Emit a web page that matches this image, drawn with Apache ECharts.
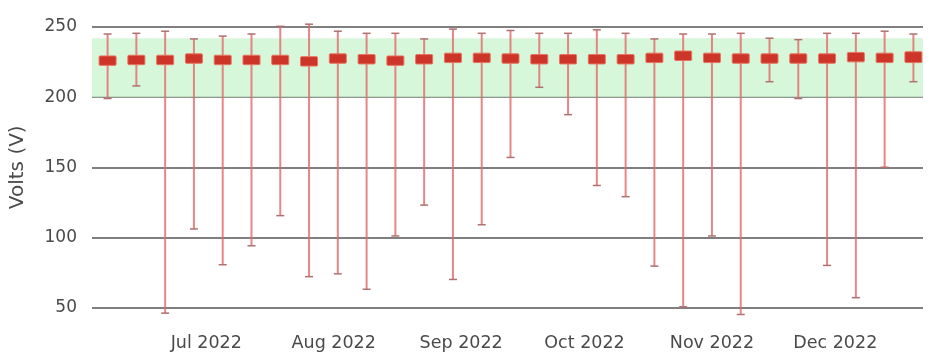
<!DOCTYPE html>
<html>
<head>
<meta charset="utf-8">
<script src="https://cdn.jsdelivr.net/npm/echarts@6/dist/echarts.min.js"></script>
<style>
  html, body { margin: 0; padding: 0; background: #fff; }
  #chart { width: 933px; height: 362px; }
</style>
</head>
<body>
<div id="chart"></div>
<script>
// Weekly voltage distribution: min / lower quartile / upper quartile / max per week
const weekStarts = [
  '2022-06-07', '2022-06-14', '2022-06-21', '2022-06-28', '2022-07-05',
  '2022-07-12', '2022-07-19', '2022-07-26', '2022-08-02', '2022-08-09',
  '2022-08-16', '2022-08-23', '2022-08-30', '2022-09-06', '2022-09-13',
  '2022-09-20', '2022-09-27', '2022-10-04', '2022-10-11', '2022-10-18',
  '2022-10-25', '2022-11-01', '2022-11-08', '2022-11-15', '2022-11-22',
  '2022-11-29', '2022-12-06', '2022-12-13', '2022-12-20'
];
const minVolts = [
  199, 208, 46, 106, 80.5, 94, 115.5, 72, 74, 63,
  101, 123, 70, 109, 157, 207, 187.5, 137, 129, 79.5,
  50.5, 101, 45, 211, 199, 80, 57, 150, 211
];
const q1Volts = [
  223, 223.5, 223.5, 224.5, 223.5, 223.5, 223.5, 222.5, 224.5, 224,
  223, 224, 225, 225, 224.5, 224, 224, 224, 224, 225,
  226.5, 225, 224.5, 224.5, 224.5, 224.5, 225.5, 225, 225
];
const q3Volts = [
  229, 229.5, 229.5, 230.5, 229.5, 229.5, 229.5, 228.5, 230.5, 230,
  229, 230, 231, 231, 230.5, 230, 230, 230, 230, 231,
  232.5, 231, 230.5, 230.5, 230.5, 230.5, 231.5, 231, 232
];
const maxVolts = [
  245, 245.5, 247, 241.5, 243.5, 245, 250.5, 252, 247, 245.5,
  245.5, 241.5, 248.5, 245.5, 247.5, 245.5, 245.5, 248, 245.5, 241.5,
  245, 245, 245.5, 242, 241, 245.5, 245.5, 247, 245
];

// Acceptable supply band
const bandLow = 200;
const bandHigh = 242;

// Axis ticks
const yTicks = { min: 50, max: 250, step: 50 };
const monthTicks = ['2022-07-01', '2022-08-01', '2022-09-01', '2022-10-01', '2022-11-01', '2022-12-01'];
const monthLabels = ['Jul 2022', 'Aug 2022', 'Sep 2022', 'Oct 2022', 'Nov 2022', 'Dec 2022'];
const xRange = ['2022-06-03T05:00:00', '2022-12-22T08:00:00'];

const toTime = s => +new Date(s.length === 10 ? s + 'T00:00:00' : s);
const monthTickTimes = monthTicks.map(toTime);

const boxData = weekStarts.map((d, i) => [toTime(d), minVolts[i], q1Volts[i], q3Volts[i], maxVolts[i]]);

const chart = echarts.init(document.getElementById('chart'), null, { renderer: 'canvas' });

function renderBox(params, api) {
  const t = api.value(0);
  const pMin = api.coord([t, api.value(1)]);
  const pQ1 = api.coord([t, api.value(2)]);
  const pQ3 = api.coord([t, api.value(3)]);
  const pMax = api.coord([t, api.value(4)]);
  const x = pMin[0];
  const capHalf = 4;
  const boxHalf = 8.5;
  return {
    type: 'group',
    children: [
      {
        type: 'line',
        shape: { x1: x, y1: pMax[1], x2: x, y2: pMin[1] },
        style: { stroke: 'rgba(226,104,104,0.8)', lineWidth: 2 }
      },
      {
        type: 'line',
        shape: { x1: x - capHalf, y1: pMax[1], x2: x + capHalf, y2: pMax[1] },
        style: { stroke: '#b07070', lineWidth: 1.5 }
      },
      {
        type: 'line',
        shape: { x1: x - capHalf, y1: pMin[1], x2: x + capHalf, y2: pMin[1] },
        style: { stroke: '#b07070', lineWidth: 1.5 }
      },
      {
        type: 'rect',
        shape: { x: x - boxHalf, y: pQ3[1] - 0.5, width: boxHalf * 2, height: pQ1[1] - pQ3[1] + 1, r: 1 },
        style: { fill: '#cc3528', stroke: '#e8735f', lineWidth: 1 }
      }
    ]
  };
}

chart.setOption({
  animation: false,
  backgroundColor: '#ffffff',
  grid: { left: 88, right: 10, top: 27, bottom: 54.5, containLabel: false },
  xAxis: {
    type: 'value',
    min: toTime(xRange[0]),
    max: toTime(xRange[1]),
    axisLine: { show: false },
    axisTick: { show: false },
    splitLine: { show: false },
    axisLabel: {
      customValues: monthTickTimes,
      margin: 27,
      color: '#4a4a4a',
      fontFamily: 'DejaVu Sans',
      fontSize: 17.5,
      formatter: function (value) {
        const idx = monthTickTimes.indexOf(value);
        return idx >= 0 ? monthLabels[idx] : '';
      }
    }
  },
  yAxis: {
    type: 'value',
    min: yTicks.min,
    max: yTicks.max,
    interval: yTicks.step,
    name: 'Volts (V)',
    nameLocation: 'middle',
    nameGap: 64,
    nameTextStyle: { color: '#4a4a4a', fontFamily: 'DejaVu Sans', fontSize: 20 },
    axisLine: { show: false },
    axisTick: { show: false },
    axisLabel: { color: '#4a4a4a', fontFamily: 'DejaVu Sans', fontSize: 17, margin: 15 },
    splitLine: { show: true, lineStyle: { color: '#555555', width: 1.5 } }
  },
  series: [
    {
      type: 'custom',
      clip: false,
      renderItem: renderBox,
      encode: { x: 0, y: [1, 2, 3, 4] },
      data: boxData,
      markArea: {
        silent: true,
        itemStyle: { color: 'rgba(205,245,210,0.8)' },
        data: [[{ yAxis: bandLow }, { yAxis: bandHigh }]]
      },
      z: 3
    }
  ]
});
</script>
</body>
</html>
